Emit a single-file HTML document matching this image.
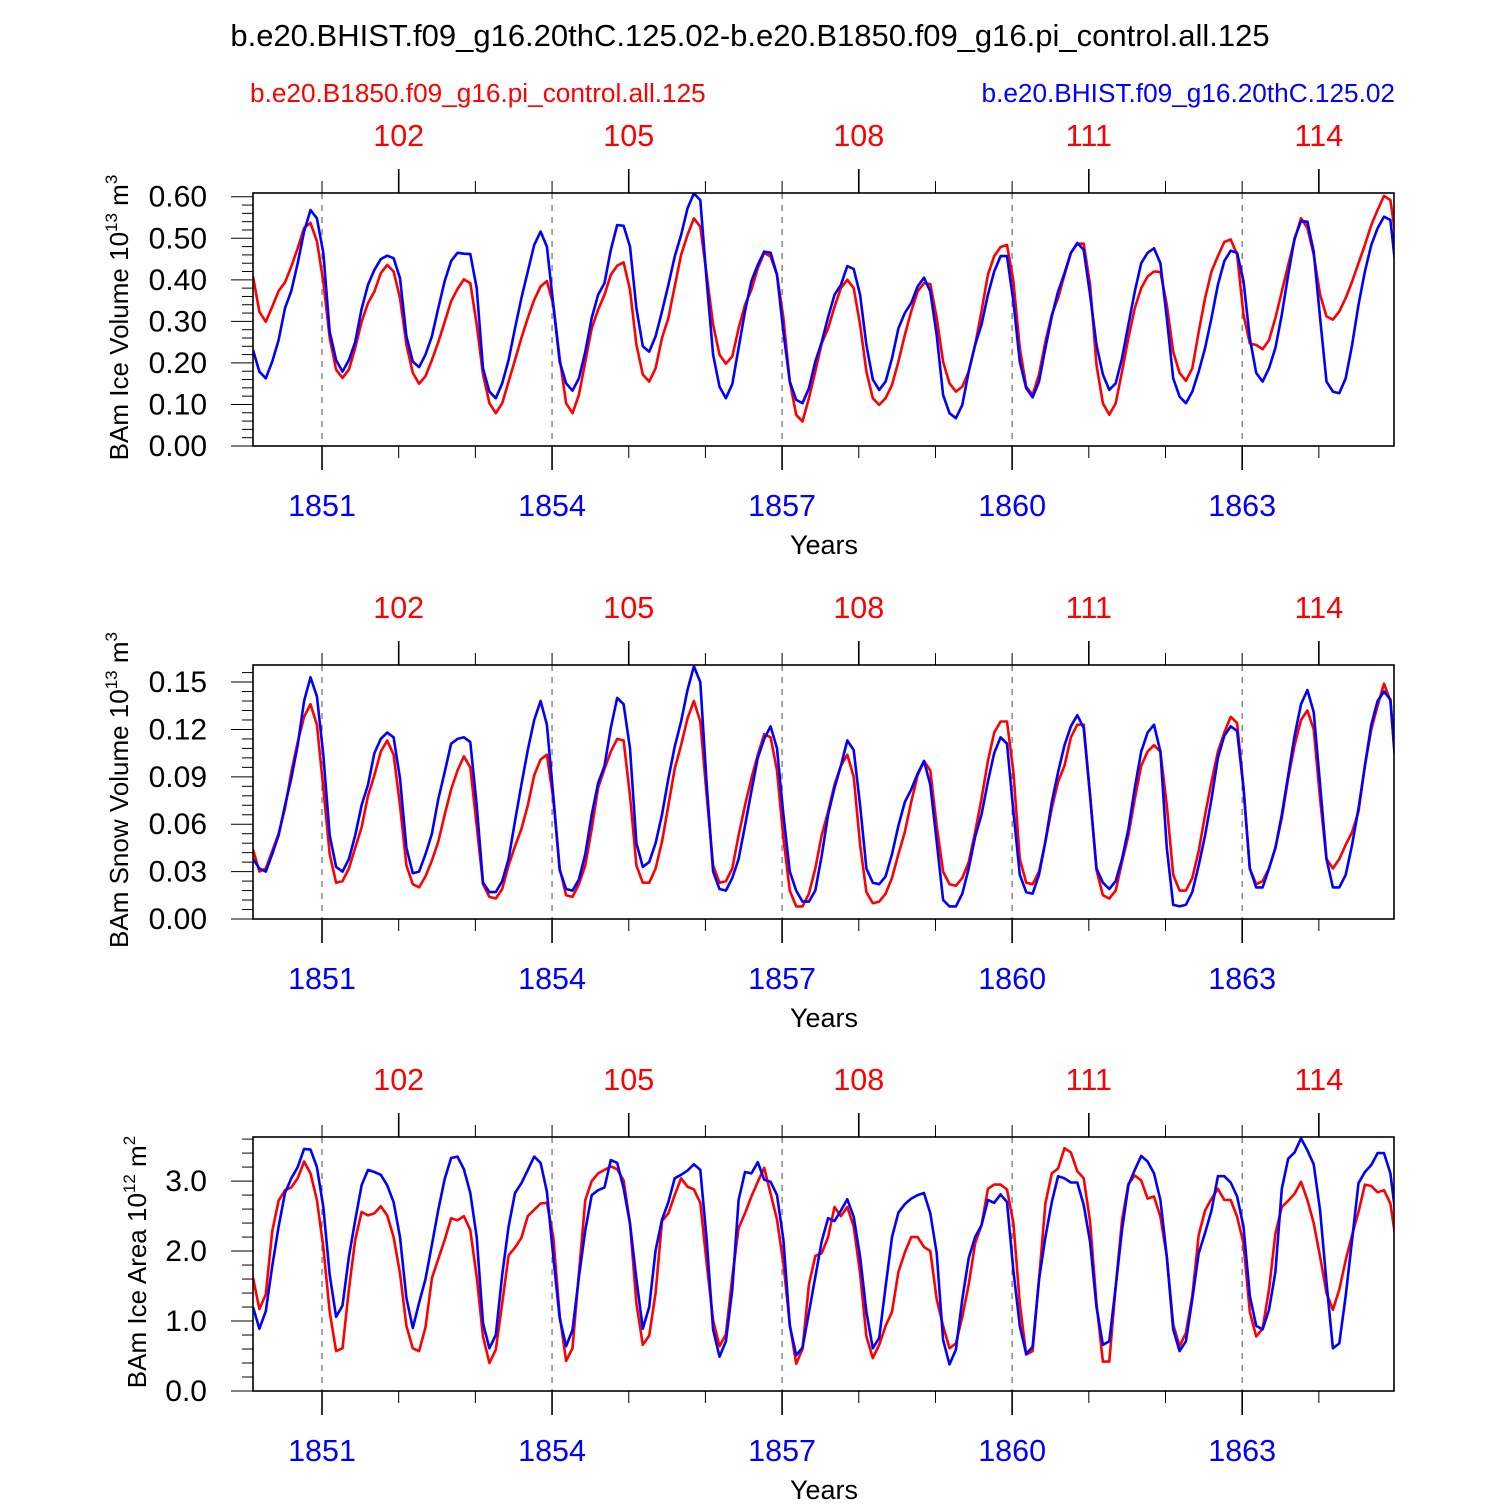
<!DOCTYPE html>
<html><head><meta charset="utf-8"><style>
html,body{margin:0;padding:0;background:#fff;}
svg text{font-family:"Liberation Sans",Arial,sans-serif;}
</style></head><body>
<svg id="chart" width="1500" height="1500" viewBox="0 0 1500 1500" xmlns="http://www.w3.org/2000/svg">
<text x="750" y="46" font-size="31" text-anchor="middle" fill="#000">b.e20.BHIST.f09_g16.20thC.125.02-b.e20.B1850.f09_g16.pi_control.all.125</text>
<text x="250" y="102" font-size="26.2" fill="#ff0000">b.e20.B1850.f09_g16.pi_control.all.125</text>
<text x="1395" y="102" font-size="26.2" fill="#0000ff" text-anchor="end">b.e20.BHIST.f09_g16.20thC.125.02</text>
</svg>
<script>
const bottomYears = [1851, 1854, 1857, 1860, 1863];
const topYears = [102, 105, 108, 111, 114];

const p1Blue = [0.231,0.179,0.163,0.203,0.255,0.332,0.373,0.44,0.516,0.568,0.548,0.465,0.275,0.207,0.179,0.207,0.25,0.33,0.388,0.424,0.45,0.458,0.452,0.404,0.264,0.203,0.19,0.22,0.264,0.332,0.397,0.445,0.465,0.463,0.462,0.38,0.187,0.131,0.115,0.151,0.207,0.283,0.356,0.42,0.484,0.516,0.48,0.34,0.203,0.151,0.133,0.163,0.227,0.308,0.364,0.392,0.472,0.532,0.53,0.48,0.332,0.24,0.227,0.264,0.324,0.388,0.456,0.508,0.572,0.608,0.592,0.397,0.22,0.143,0.115,0.149,0.236,0.324,0.397,0.436,0.468,0.465,0.412,0.275,0.155,0.111,0.103,0.139,0.203,0.25,0.31,0.364,0.388,0.433,0.426,0.364,0.243,0.16,0.135,0.155,0.211,0.283,0.32,0.344,0.384,0.405,0.372,0.267,0.123,0.079,0.067,0.099,0.179,0.243,0.292,0.364,0.42,0.457,0.457,0.348,0.203,0.139,0.117,0.155,0.236,0.312,0.372,0.416,0.465,0.489,0.472,0.364,0.243,0.172,0.135,0.151,0.211,0.292,0.372,0.44,0.465,0.476,0.44,0.308,0.163,0.119,0.103,0.131,0.179,0.236,0.308,0.388,0.445,0.47,0.465,0.397,0.26,0.176,0.155,0.187,0.236,0.316,0.412,0.5,0.541,0.54,0.468,0.308,0.155,0.131,0.127,0.163,0.243,0.34,0.42,0.484,0.524,0.552,0.544,0.404];
const p1Red = [0.408,0.323,0.299,0.335,0.373,0.394,0.432,0.476,0.525,0.537,0.493,0.396,0.26,0.184,0.164,0.184,0.236,0.299,0.344,0.372,0.416,0.436,0.42,0.356,0.244,0.176,0.15,0.168,0.207,0.25,0.299,0.348,0.378,0.401,0.392,0.292,0.172,0.103,0.079,0.103,0.155,0.207,0.26,0.308,0.352,0.384,0.397,0.34,0.211,0.103,0.079,0.123,0.203,0.283,0.328,0.364,0.412,0.434,0.442,0.376,0.244,0.172,0.155,0.187,0.26,0.308,0.384,0.46,0.508,0.548,0.528,0.412,0.292,0.22,0.198,0.216,0.283,0.34,0.376,0.428,0.465,0.456,0.412,0.308,0.155,0.075,0.059,0.115,0.179,0.247,0.283,0.335,0.38,0.4,0.38,0.292,0.179,0.115,0.099,0.115,0.147,0.203,0.267,0.324,0.372,0.392,0.39,0.308,0.203,0.151,0.131,0.143,0.179,0.243,0.324,0.412,0.457,0.479,0.484,0.397,0.236,0.143,0.123,0.172,0.251,0.316,0.356,0.412,0.465,0.487,0.487,0.388,0.195,0.103,0.075,0.103,0.179,0.26,0.332,0.38,0.408,0.42,0.419,0.34,0.227,0.176,0.157,0.187,0.275,0.356,0.42,0.457,0.491,0.497,0.461,0.316,0.247,0.243,0.233,0.255,0.308,0.372,0.436,0.497,0.548,0.525,0.461,0.364,0.312,0.304,0.324,0.356,0.396,0.44,0.484,0.532,0.568,0.602,0.592,0.484];

const p2Blue = [0.038,0.032,0.030,0.041,0.053,0.072,0.089,0.110,0.138,0.153,0.141,0.104,0.053,0.033,0.030,0.038,0.053,0.072,0.085,0.105,0.114,0.118,0.115,0.089,0.045,0.029,0.030,0.041,0.054,0.076,0.093,0.111,0.114,0.115,0.112,0.072,0.023,0.017,0.017,0.024,0.038,0.062,0.085,0.107,0.126,0.138,0.123,0.078,0.031,0.019,0.018,0.025,0.041,0.066,0.086,0.097,0.121,0.140,0.136,0.108,0.048,0.033,0.036,0.048,0.066,0.089,0.109,0.125,0.145,0.160,0.150,0.085,0.030,0.019,0.018,0.026,0.038,0.059,0.081,0.102,0.114,0.122,0.108,0.066,0.030,0.018,0.011,0.011,0.018,0.040,0.066,0.083,0.097,0.113,0.107,0.072,0.032,0.023,0.022,0.027,0.041,0.059,0.074,0.082,0.092,0.100,0.085,0.049,0.012,0.008,0.008,0.016,0.032,0.052,0.066,0.087,0.105,0.115,0.111,0.068,0.028,0.017,0.016,0.028,0.049,0.074,0.093,0.110,0.122,0.129,0.121,0.078,0.032,0.023,0.019,0.024,0.038,0.057,0.083,0.106,0.118,0.123,0.106,0.045,0.009,0.008,0.009,0.017,0.034,0.053,0.076,0.102,0.116,0.122,0.119,0.083,0.032,0.020,0.020,0.032,0.045,0.066,0.091,0.116,0.136,0.145,0.131,0.085,0.038,0.020,0.020,0.028,0.047,0.070,0.097,0.123,0.138,0.144,0.139,0.087];
const p2Red = [0.044,0.030,0.032,0.043,0.054,0.070,0.093,0.112,0.128,0.136,0.123,0.083,0.041,0.023,0.024,0.032,0.045,0.058,0.078,0.091,0.106,0.113,0.104,0.072,0.034,0.022,0.020,0.027,0.037,0.049,0.066,0.082,0.094,0.103,0.096,0.059,0.022,0.014,0.013,0.019,0.034,0.046,0.057,0.072,0.091,0.101,0.104,0.076,0.032,0.015,0.014,0.022,0.034,0.057,0.083,0.095,0.106,0.114,0.113,0.078,0.034,0.023,0.023,0.032,0.049,0.072,0.095,0.110,0.127,0.138,0.125,0.078,0.034,0.023,0.024,0.032,0.053,0.072,0.089,0.104,0.117,0.115,0.094,0.051,0.018,0.008,0.008,0.016,0.032,0.053,0.068,0.085,0.097,0.104,0.090,0.047,0.017,0.010,0.011,0.016,0.026,0.041,0.055,0.074,0.091,0.100,0.094,0.059,0.030,0.022,0.021,0.026,0.036,0.055,0.076,0.100,0.118,0.125,0.125,0.093,0.038,0.023,0.022,0.030,0.049,0.070,0.087,0.097,0.115,0.123,0.123,0.078,0.031,0.015,0.013,0.018,0.036,0.053,0.076,0.097,0.106,0.110,0.106,0.072,0.028,0.018,0.018,0.026,0.043,0.066,0.087,0.106,0.118,0.128,0.124,0.083,0.032,0.022,0.024,0.032,0.045,0.064,0.089,0.110,0.126,0.132,0.120,0.076,0.038,0.032,0.038,0.047,0.055,0.068,0.097,0.120,0.135,0.149,0.138,0.087];

const p3Blue = [1.2,0.89,1.14,1.78,2.35,2.83,3.04,3.2,3.46,3.45,3.2,2.63,1.66,1.06,1.22,1.92,2.44,2.94,3.16,3.13,3.09,2.94,2.7,2.2,1.33,0.9,1.26,1.6,2.09,2.59,3.03,3.33,3.35,3.17,2.83,2.2,0.97,0.61,0.8,1.66,2.35,2.83,2.97,3.16,3.35,3.26,2.85,1.92,1.04,0.64,0.87,1.63,2.3,2.8,2.87,2.91,3.3,3.26,2.9,2.39,1.6,0.89,1.2,2.01,2.45,2.7,3.04,3.09,3.15,3.24,3.16,2.16,0.88,0.49,0.71,1.45,2.73,3.13,3.11,3.27,3.02,2.99,2.8,2.16,0.93,0.51,0.62,1.12,1.63,2.14,2.47,2.43,2.58,2.74,2.49,1.92,1.13,0.61,0.76,1.49,2.2,2.55,2.67,2.75,2.8,2.83,2.54,1.97,0.73,0.38,0.59,1.31,1.9,2.2,2.37,2.73,2.69,2.81,2.7,1.72,0.93,0.53,0.63,1.59,2.2,2.7,3.07,3.04,2.98,2.98,2.66,2.13,1.2,0.66,0.71,1.49,2.3,2.94,3.16,3.36,3.28,3.11,2.73,1.92,0.88,0.57,0.71,1.31,1.97,2.26,2.58,3.07,3.07,2.98,2.78,2.35,1.36,0.93,0.88,1.16,1.7,2.89,3.32,3.41,3.61,3.44,3.24,2.58,1.55,0.61,0.68,1.36,2.16,2.97,3.13,3.23,3.4,3.4,3.11,2.37];
const p3Red = [1.62,1.17,1.38,2.28,2.72,2.87,2.91,3.04,3.28,3.11,2.73,2.06,1.13,0.57,0.61,1.45,2.16,2.56,2.51,2.54,2.64,2.51,2.2,1.68,0.93,0.61,0.57,0.91,1.61,1.89,2.16,2.47,2.44,2.5,2.3,1.63,0.78,0.4,0.59,1.25,1.94,2.05,2.19,2.5,2.59,2.68,2.69,2.2,1.08,0.43,0.61,1.68,2.73,3.0,3.11,3.16,3.21,3.17,3.01,2.4,1.25,0.66,0.79,1.4,2.43,2.54,2.8,3.04,2.92,2.88,2.69,1.82,1.01,0.64,0.81,1.63,2.33,2.54,2.78,2.99,3.19,2.82,2.45,1.82,0.95,0.39,0.6,1.52,1.93,1.97,2.2,2.63,2.5,2.63,2.35,1.68,0.78,0.47,0.66,0.93,1.13,1.7,1.98,2.2,2.2,2.06,2.0,1.31,0.93,0.61,0.68,1.06,1.52,2.11,2.37,2.89,2.95,2.95,2.88,2.4,1.25,0.52,0.57,1.59,2.68,3.11,3.18,3.47,3.41,3.14,3.04,2.42,1.25,0.42,0.42,1.49,2.44,2.96,3.08,3.01,2.75,2.78,2.49,1.92,0.95,0.64,0.83,1.36,2.23,2.58,2.75,2.89,2.73,2.73,2.49,2.11,1.13,0.78,0.89,1.45,2.25,2.63,2.72,2.82,2.99,2.73,2.4,1.92,1.4,1.16,1.45,1.87,2.23,2.56,2.95,2.93,2.84,2.87,2.68,2.06];

const NS='http://www.w3.org/2000/svg';
const svg=document.getElementById('chart');
const X0=253, X1=1394;
const T0=1850.1, T1=1864.98;
function xYear(t){return X0+(t-T0)/(T1-T0)*(X1-X0);}
function xMonth(i){return xYear(T0+i/12);}
function mk(tag,attrs,parent){const e=document.createElementNS(NS,tag);for(const k in attrs)e.setAttribute(k,attrs[k]);(parent||svg).appendChild(e);return e;}

const panels=[
 {top:193,bot:446,max:0.609,major:0.1,minor:0.02,nMajor:7,dec:2,blue:p1Blue,red:p1Red,title:'BAm Ice Volume 10',exp:'13',unit:' m',uexp:'3',tx:128,name:'ice-volume'},
 {top:665,bot:919,max:0.1608,major:0.03,minor:0.006,nMajor:6,dec:2,blue:p2Blue,red:p2Red,title:'BAm Snow Volume 10',exp:'13',unit:' m',uexp:'3',tx:128,name:'snow-volume'},
 {top:1137,bot:1391,max:3.63,major:1.0,minor:0.2,nMajor:4,dec:1,blue:p3Blue,red:p3Red,title:'BAm Ice Area 10',exp:'12',unit:' m',uexp:'2',tx:146,name:'ice-area'}
];

panels.forEach((p,pi)=>{
 const g=mk('g',{});
 
 
 const yv=v=>p.bot-v/p.max*(p.bot-p.top);
 const cid='clip'+pi;
 const cp=mk('clipPath',{id:cid},g);mk('rect',{x:X0,y:p.top,width:X1-X0,height:p.bot-p.top},cp);
 bottomYears.forEach(yr=>{
  const l=mk('line',{x1:xYear(yr),x2:xYear(yr),y1:p.top,y2:p.bot,stroke:'#777','stroke-width':1.3,'stroke-dasharray':'6,6'},g);
  
  
 });
 for(let yr=1851;yr<=1864;yr++){
  const x=xYear(yr);const maj=bottomYears.includes(yr);
  mk('line',{x1:x,x2:x,y1:p.bot,y2:p.bot+(maj?24:12),stroke:'#000','stroke-width':maj?1.6:1},g);
  const maj2=topYears.includes(yr-1750);
  mk('line',{x1:x,x2:x,y1:p.top,y2:p.top-(maj2?24:12),stroke:'#000','stroke-width':maj2?1.6:1},g);
 }
 const nMinor=Math.floor(p.max/p.minor+1e-6);
 for(let k=0;k<=nMinor;k++){
  const v=k*p.minor;const y=yv(v);
  const isMaj=Math.abs(v/p.major-Math.round(v/p.major))<1e-6;
  mk('line',{x1:X0-(isMaj?22:11),x2:X0,y1:y,y2:y,stroke:'#000','stroke-width':1},g);
 }
 for(let k=0;k<p.nMajor;k++){
  const v=k*p.major;
  const t=mk('text',{x:207,y:yv(v)+10,'font-size':30,'text-anchor':'end',fill:'#000'},g);
  t.textContent=v.toFixed(p.dec);
  
  
 }
 bottomYears.forEach(yr=>{
  const t=mk('text',{x:xYear(yr),y:p.bot+70,'font-size':30.5,'text-anchor':'middle',fill:'#0000ff'},g);
  t.textContent=yr;
  
  
 });
 topYears.forEach(yr=>{
  const t=mk('text',{x:xYear(yr+1750),y:p.top-47,'font-size':30.5,'text-anchor':'middle',fill:'#ff0000'},g);
  t.textContent=yr;
  
  
 });
 const xt=mk('text',{x:824,y:p.bot+108,'font-size':27,'text-anchor':'middle',fill:'#000'},g);
 xt.textContent='Years';
 
 
 const cy=(p.top+p.bot)/2-2;
 const yt=mk('text',{x:0,y:0,'font-size':26,'text-anchor':'middle',fill:'#000',transform:`translate(${p.tx},${cy}) rotate(-90)`},g);
 
 
 yt.appendChild(document.createTextNode(p.title));
 const s1=mk('tspan',{dy:-11,'font-size':17},yt);s1.textContent=p.exp;
 const s2=mk('tspan',{dy:11},yt);s2.textContent=p.unit;
 const s3=mk('tspan',{dy:-11,'font-size':17},yt);s3.textContent=p.uexp;
 [['red',p.red,'#ff0000'],['blue',p.blue,'#0000ff']].forEach(([nm,arr,col])=>{
  const d=arr.map((v,i)=>(i?'L':'M')+xMonth(i).toFixed(1)+','+yv(v).toFixed(1)).join('');
  const path=mk('path',{d:d,fill:'none',stroke:col,'stroke-width':2.6,'stroke-linejoin':'round','clip-path':`url(#${cid})`},g);
  
  
 });
 const fr=mk('rect',{x:X0,y:p.top,width:X1-X0,height:p.bot-p.top,fill:'none',stroke:'#000','stroke-width':1.6},g);
 
 
});
</script>
</body></html>
